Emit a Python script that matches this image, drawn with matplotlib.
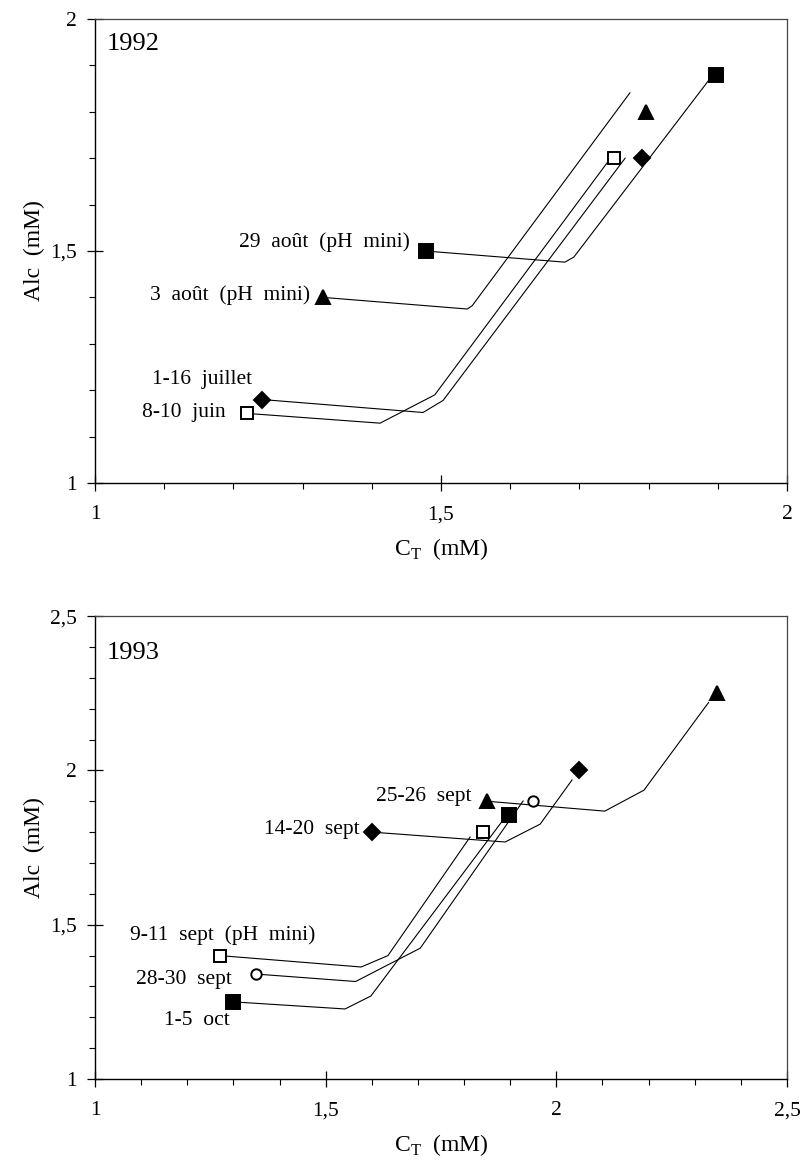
import numpy as np
import matplotlib
matplotlib.use("Agg")
import matplotlib.pyplot as plt
from matplotlib.ticker import MultipleLocator, FuncFormatter

plt.rcParams['font.family'] = ['Liberation Serif', 'DejaVu Serif']
plt.rcParams['mathtext.fontset'] = 'custom'
plt.rcParams['mathtext.rm'] = 'Liberation Serif'

# 1992 - model paths (start at the low point, end near the high point)
juin92_x = [1.22, 1.412, 1.491, 1.740]
juin92_y = [1.150, 1.129, 1.190, 1.690]
juil92_x = [1.241, 1.474, 1.503, 1.766]
juil92_y = [1.180, 1.152, 1.178, 1.700]
aout3_x = [1.33, 1.538, 1.545, 1.773]
aout3_y = [1.40, 1.375, 1.382, 1.841]
aout29_x = [1.478, 1.679, 1.692, 1.893]
aout29_y = [1.500, 1.476, 1.487, 1.880]

# 1992 - measured points
juin92_pts_x = [1.22, 1.75]
juin92_pts_y = [1.15, 1.70]
juil92_pts_x = [1.241, 1.79]
juil92_pts_y = [1.18, 1.70]
aout3_pts_x = [1.33, 1.796]
aout3_pts_y = [1.40, 1.80]
aout29_pts_x = [1.478, 1.897]
aout29_pts_y = [1.50, 1.879]

# 1993 - model paths
s911_x = [1.27, 1.577, 1.635, 1.813]
s911_y = [1.40, 1.363, 1.400, 1.784]
s2830_x = [1.35, 1.565, 1.705, 1.928]
s2830_y = [1.34, 1.316, 1.424, 1.901]
o15_x = [1.30, 1.542, 1.598, 1.89]
o15_y = [1.25, 1.227, 1.269, 1.85]
s1420_x = [1.60, 1.889, 1.965, 2.034]
s1420_y = [1.80, 1.768, 1.826, 1.969]
s2526_x = [1.85, 2.105, 2.19, 2.33]
s2526_y = [1.90, 1.868, 1.936, 2.22]

# 1993 - measured points
s911_pts_x = [1.27, 1.84]
s911_pts_y = [1.40, 1.80]
s2830_pts_x = [1.35, 1.95]
s2830_pts_y = [1.34, 1.90]
o15_pts_x = [1.30, 1.897]
o15_pts_y = [1.25, 1.855]
s1420_pts_x = [1.60, 2.05]
s1420_pts_y = [1.80, 2.00]
s2526_pts_x = [1.85, 2.348]
s2526_pts_y = [1.90, 2.25]

LABEL_FS = 15.5


def comma(v, pos):
    if abs(v - round(v)) < 1e-6:
        return "%d" % round(v)
    return ("%.1f" % v).replace(".", ",")


def style_axes(ax, xmax, ymax):
    ax.set_xlim(1, xmax)
    ax.set_ylim(1, ymax)
    ax.xaxis.set_major_locator(MultipleLocator(0.5))
    ax.yaxis.set_major_locator(MultipleLocator(0.5))
    ax.xaxis.set_minor_locator(MultipleLocator(0.1))
    ax.yaxis.set_minor_locator(MultipleLocator(0.1))
    ax.xaxis.set_major_formatter(FuncFormatter(comma))
    ax.yaxis.set_major_formatter(FuncFormatter(comma))
    ax.tick_params(which='major', direction='inout', length=12, width=0.9,
                   labelsize=15.5, pad=7)
    ax.tick_params(which='minor', direction='out', length=4, width=0.8)
    ax.tick_params(axis='x', which='major', pad=10)
    for s in ['left', 'bottom']:
        ax.spines[s].set_linewidth(1.0)
    for s in ['top', 'right']:
        ax.spines[s].set_linewidth(0.9)
        ax.spines[s].set_color('#444444')
    ax.set_xlabel(r'C$_\mathrm{T}$  (mM)', fontsize=17)
    ax.set_ylabel('Alc  (mM)', fontsize=17)
    ax.xaxis.set_label_coords(0.5, -0.115)
    ax.yaxis.set_label_coords(-0.072, 0.5)


def path(ax, x, y, px, py, marker, face, ms):
    ax.plot(x, y, color='black', lw=0.8, zorder=2)
    ax.plot(px, py, ls='none', marker=marker, ms=ms, mfc=face,
            mec='black', mew=1.4, zorder=3)


fig = plt.figure(figsize=(8.03, 11.6), dpi=100)
ax1 = fig.add_axes([0.1183, 0.5836, 0.8618, 0.4000])
ax2 = fig.add_axes([0.1183, 0.0698, 0.8618, 0.3991])

# ---- 1992
style_axes(ax1, 2, 2)
path(ax1, juin92_x, juin92_y, juin92_pts_x, juin92_pts_y, 's', 'white', 9)
path(ax1, juil92_x, juil92_y, juil92_pts_x, juil92_pts_y, 'D', 'black', 8)
path(ax1, aout3_x, aout3_y, aout3_pts_x, aout3_pts_y, '^', 'black', 10)
path(ax1, aout29_x, aout29_y, aout29_pts_x, aout29_pts_y, 's', 'black', 10)
ax1.text(1.017, 1.946, '1992', fontsize=19, ha='left', va='center')
ax1.text(1.455, 1.519, '29  août  (pH  mini)', fontsize=LABEL_FS, ha='right', va='center')
ax1.text(1.311, 1.405, '3  août  (pH  mini)', fontsize=LABEL_FS, ha='right', va='center')
ax1.text(1.227, 1.224, '1-16  juillet', fontsize=LABEL_FS, ha='right', va='center')
ax1.text(1.189, 1.151, '8-10  juin', fontsize=LABEL_FS, ha='right', va='center')

# ---- 1993
style_axes(ax2, 2.5, 2.5)
path(ax2, s911_x, s911_y, s911_pts_x, s911_pts_y, 's', 'white', 9)
path(ax2, s2830_x, s2830_y, s2830_pts_x, s2830_pts_y, 'o', 'white', 7.5)
path(ax2, o15_x, o15_y, o15_pts_x, o15_pts_y, 's', 'black', 10)
path(ax2, s1420_x, s1420_y, s1420_pts_x, s1420_pts_y, 'D', 'black', 8)
path(ax2, s2526_x, s2526_y, s2526_pts_x, s2526_pts_y, '^', 'black', 10)
ax2.text(1.026, 2.380, '1993', fontsize=19, ha='left', va='center')
ax2.text(1.817, 1.914, '25-26  sept', fontsize=LABEL_FS, ha='right', va='center')
ax2.text(1.574, 1.807, '14-20  sept', fontsize=LABEL_FS, ha='right', va='center')
ax2.text(1.076, 1.467, '9-11  sept  (pH  mini)', fontsize=LABEL_FS, ha='left', va='center')
ax2.text(1.297, 1.321, '28-30  sept', fontsize=LABEL_FS, ha='right', va='center')
ax2.text(1.293, 1.191, '1-5  oct', fontsize=LABEL_FS, ha='right', va='center')

fig.savefig('out.png', dpi=100)
